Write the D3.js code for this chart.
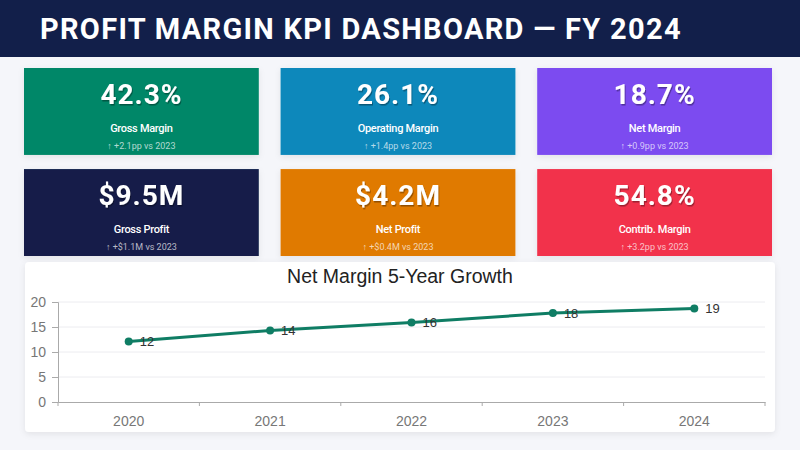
<!DOCTYPE html>
<html>
<head>
<meta charset="utf-8">
<script src="https://cdn.jsdelivr.net/npm/d3@7"></script>
<style>
  html, body { margin: 0; padding: 0; background: #f5f6fa; }
  svg { display: block; }
</style>
</head>
<body>
<div id="chart"></div>
<script>
// KPI tiles
const kpiValues = ['42.3%', '26.1%', '18.7%', '$9.5M', '$4.2M', '54.8%'];
const kpiLabels = ['Gross Margin', 'Operating Margin', 'Net Margin', 'Gross Profit', 'Net Profit', 'Contrib. Margin'];
const kpiDeltas = ['↑ +2.1pp vs 2023', '↑ +1.4pp vs 2023', '↑ +0.9pp vs 2023', '↑ +$1.1M vs 2023', '↑ +$0.4M vs 2023', '↑ +3.2pp vs 2023'];
const kpiColors = ['#048767', '#0a88bb', '#7b4cf0', '#121f4a', '#e07a00', '#f2304b'];

// trend chart
const years = ['2020', '2021', '2022', '2023', '2024'];
const netMargin = [12.1, 14.3, 15.9, 17.8, 18.7];
const yTicks = [0, 5, 10, 15, 20];

const W = 800, H = 450;

const svg = d3.select('#chart')
  .append('svg')
  .attr('width', W)
  .attr('height', H);

const defs = svg.append('defs');
const shadow = defs.append('filter').attr('id', 'cardShadow')
  .attr('x', '-10%').attr('y', '-10%').attr('width', '120%').attr('height', '130%');
shadow.append('feDropShadow')
  .attr('dx', 0).attr('dy', 2).attr('stdDeviation', 3)
  .attr('flood-color', '#000').attr('flood-opacity', 0.08);
const textShadow = defs.append('filter').attr('id', 'textShadow');
textShadow.append('feDropShadow')
  .attr('dx', 1).attr('dy', 1.5).attr('stdDeviation', 0.6)
  .attr('flood-color', '#000').attr('flood-opacity', 0.35);

// header bar
svg.append('rect')
  .attr('width', W).attr('height', 57)
  .attr('fill', '#121f4a');
svg.append('text')
  .attr('x', 40).attr('y', 39)
  .attr('fill', '#fff')
  .attr('font-family', 'Roboto, sans-serif')
  .attr('font-weight', 700)
  .attr('font-size', 29)
  .attr('letter-spacing', 1.3)
  .text('PROFIT MARGIN KPI DASHBOARD — FY 2024');

// KPI cards
const cardX = d3.scaleBand().domain([0, 1, 2]).range([24, 772]).paddingInner(0.085);
const cardY = d3.scaleBand().domain([0, 1]).range([68, 256]).paddingInner(0.14);

const cards = svg.selectAll('g.card')
  .data(kpiValues.map((v, i) => ({ value: v, label: kpiLabels[i], delta: kpiDeltas[i], color: kpiColors[i], i })))
  .enter().append('g')
  .attr('class', 'card')
  .attr('transform', d => `translate(${cardX(d.i % 3)},${cardY(Math.floor(d.i / 3))})`);

cards.append('rect')
  .attr('width', cardX.bandwidth())
  .attr('height', cardY.bandwidth())
  .attr('fill', d => d.color)
  .attr('filter', 'url(#cardShadow)');

cards.append('text')
  .attr('x', cardX.bandwidth() / 2).attr('y', 36)
  .attr('text-anchor', 'middle')
  .attr('fill', '#fff')
  .attr('font-family', 'Roboto, sans-serif')
  .attr('font-weight', 700)
  .attr('font-size', 28)
  .attr('letter-spacing', 1)
  .attr('filter', 'url(#textShadow)')
  .text(d => d.value);

cards.append('text')
  .attr('x', cardX.bandwidth() / 2).attr('y', 64)
  .attr('text-anchor', 'middle')
  .attr('fill', '#fff')
  .attr('font-family', 'Roboto, sans-serif')
  .attr('font-weight', 500)
  .attr('font-size', 11)
  .attr('letter-spacing', -0.3)
  .text(d => d.label);

cards.append('text')
  .attr('x', cardX.bandwidth() / 2).attr('y', 81)
  .attr('text-anchor', 'middle')
  .attr('fill', '#fff')
  .attr('fill-opacity', 0.7)
  .attr('font-family', 'Roboto, sans-serif')
  .attr('font-size', 9)
  .text(d => d.delta);

// chart panel
svg.append('rect')
  .attr('x', 25).attr('y', 262)
  .attr('width', 750).attr('height', 170)
  .attr('rx', 4)
  .attr('fill', '#fff')
  .attr('filter', 'url(#cardShadow)');

svg.append('text')
  .attr('x', 400).attr('y', 283)
  .attr('text-anchor', 'middle')
  .attr('fill', '#222')
  .attr('font-family', 'Liberation Sans, Arial, sans-serif')
  .attr('font-size', 19.5)
  .text('Net Margin 5-Year Growth');

const plot = { left: 58, right: 765, top: 302, bottom: 402 };

const x = d3.scaleBand()
  .domain(years)
  .range([plot.left, plot.right]);

const y = d3.scaleLinear()
  .domain([0, 20])
  .range([plot.bottom, plot.top]);

// gridlines
svg.append('g')
  .selectAll('line')
  .data(yTicks.filter(t => t > 0))
  .enter().append('line')
  .attr('x1', plot.left).attr('x2', plot.right)
  .attr('y1', d => y(d)).attr('y2', d => y(d))
  .attr('stroke', '#ececf0')
  .attr('stroke-width', 1);

// y axis
const yAxis = svg.append('g')
  .attr('transform', `translate(${plot.left},0)`)
  .call(d3.axisLeft(y).tickValues(yTicks).tickSize(6).tickPadding(6));
yAxis.selectAll('text')
  .attr('fill', '#777')
  .attr('font-family', 'Liberation Sans, Arial, sans-serif')
  .attr('font-size', 14);
yAxis.selectAll('line').attr('stroke', '#aaa');
yAxis.select('.domain').attr('stroke', '#aaa');

// x axis, ticks on band boundaries
const xAxis = svg.append('g')
  .attr('transform', `translate(0,${plot.bottom})`)
  .call(d3.axisBottom(x).tickSize(0).tickPadding(14));
xAxis.selectAll('text')
  .attr('fill', '#777')
  .attr('font-family', 'Liberation Sans, Arial, sans-serif')
  .attr('font-size', 14);
xAxis.select('.domain').attr('stroke', '#aaa');
xAxis.selectAll('line.bound')
  .data(years.map(d => x(d)).concat([plot.right]))
  .enter().append('line')
  .attr('class', 'bound')
  .attr('x1', d => d).attr('x2', d => d)
  .attr('y1', 0).attr('y2', 4)
  .attr('stroke', '#aaa');

// line series
const cx = d => x(d) + x.bandwidth() / 2;
const line = d3.line()
  .x((d, i) => cx(years[i]))
  .y(d => y(d));

svg.append('path')
  .datum(netMargin)
  .attr('d', line)
  .attr('fill', 'none')
  .attr('stroke', '#0f7d64')
  .attr('stroke-width', 3);

svg.selectAll('circle.pt')
  .data(netMargin)
  .enter().append('circle')
  .attr('class', 'pt')
  .attr('cx', (d, i) => cx(years[i]))
  .attr('cy', d => y(d))
  .attr('r', 4)
  .attr('fill', '#0f7d64');

svg.selectAll('text.lbl')
  .data(netMargin)
  .enter().append('text')
  .attr('class', 'lbl')
  .attr('x', (d, i) => cx(years[i]) + 11)
  .attr('y', d => y(d))
  .attr('dy', '0.35em')
  .attr('fill', '#333')
  .attr('font-family', 'Liberation Sans, Arial, sans-serif')
  .attr('font-size', 13)
  .text(d => Math.round(d));
</script>
</body>
</html>
